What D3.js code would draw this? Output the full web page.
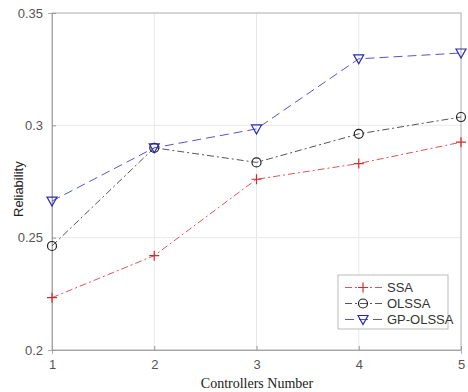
<!DOCTYPE html>
<html>
<head>
<meta charset="utf-8">
<script src="https://cdn.jsdelivr.net/npm/d3@7"></script>
<style>
  body { margin: 0; background: #fff; }
  svg { display: block; }
</style>
</head>
<body>
<div id="chart"></div>
<script>
// data
const controllers = [1, 2, 3, 4, 5];
const ssa = [0.2233, 0.2420, 0.2760, 0.2830, 0.2925];
const olssa = [0.2463, 0.2900, 0.2835, 0.2962, 0.3037];
const gpOlssa = [0.2663, 0.2900, 0.2984, 0.3296, 0.3322];
const yTicks = [0.2, 0.25, 0.3, 0.35];
const seriesNames = ['SSA', 'OLSSA', 'GP-OLSSA'];

const width = 468, height = 392;
const margin = { top: 13, right: 7, bottom: 42, left: 52 };

const svg = d3.select('#chart').append('svg')
  .attr('width', width)
  .attr('height', height);

const x = d3.scaleLinear().domain([1, 5]).range([margin.left, width - margin.right]);
const y = d3.scaleLinear().domain([0.2, 0.35]).range([height - margin.bottom, margin.top]);

// grid
svg.append('g')
  .selectAll('line')
  .data(controllers.slice(1, -1))
  .join('line')
  .attr('x1', d => x(d)).attr('x2', d => x(d))
  .attr('y1', y(0.2)).attr('y2', y(0.35))
  .attr('stroke', '#e8e8e8');

svg.append('g')
  .selectAll('line')
  .data(yTicks.slice(1, -1))
  .join('line')
  .attr('x1', x(1)).attr('x2', x(5))
  .attr('y1', d => y(d)).attr('y2', d => y(d))
  .attr('stroke', '#e8e8e8');

// box
svg.append('rect')
  .attr('x', x(1)).attr('y', y(0.35))
  .attr('width', x(5) - x(1)).attr('height', y(0.2) - y(0.35))
  .attr('fill', 'none')
  .attr('stroke', '#999')
  .attr('stroke-width', 0.8);

// axes
const xAxis = svg.append('g')
  .attr('transform', `translate(0,${y(0.2)})`)
  .call(d3.axisBottom(x).tickValues(controllers).tickFormat(d3.format('d')).tickSize(4).tickPadding(6));
const yAxis = svg.append('g')
  .attr('transform', `translate(${x(1)},0)`)
  .call(d3.axisLeft(y).tickValues(yTicks).tickFormat(d => d3.format('')(d)).tickSize(4).tickPadding(5));

[xAxis, yAxis].forEach(a => {
  a.select('.domain').attr('stroke', '#999').attr('stroke-width', 0.8);
  a.selectAll('.tick line').attr('stroke', '#999');
  a.selectAll('.tick text')
    .attr('fill', '#555')
    .style('font-family', 'Liberation Sans, Arial, sans-serif')
    .style('font-size', '13px');
});
yAxis.selectAll('.tick line').attr('x2', 4);
xAxis.selectAll('.tick line').attr('y2', -4);

// axis titles
svg.append('text')
  .attr('x', 257)
  .attr('y', 388)
  .attr('text-anchor', 'middle')
  .attr('fill', '#222')
  .style('font-family', 'Liberation Serif, Times New Roman, serif')
  .style('font-size', '14px')
  .text('Controllers Number');

svg.append('text')
  .attr('transform', 'translate(23,217) rotate(-90)')
  .attr('text-anchor', 'start')
  .attr('fill', '#222')
  .style('font-family', 'Liberation Sans, Arial, sans-serif')
  .style('font-size', '13px')
  .text('Reliability');

// series
const series = [
  { name: seriesNames[0], values: ssa, line: '#dd5555', mark: '#d42a2a', dash: '7,3,2,3', shape: 'plus' },
  { name: seriesNames[1], values: olssa, line: '#555', mark: '#222', dash: '7,3,2,3', shape: 'circle' },
  { name: seriesNames[2], values: gpOlssa, line: '#5555cc', mark: '#2a2ab0', dash: '9,5', shape: 'tri' }
];

const line = d3.line().x((d, i) => x(controllers[i])).y(d => y(d));

function drawMarker(g, shape, color, cx, cy) {
  if (shape === 'plus') {
    g.append('path')
      .attr('d', `M${cx - 5},${cy}H${cx + 5}M${cx},${cy - 5}V${cy + 5}`)
      .attr('stroke', color).attr('stroke-width', 1.2).attr('fill', 'none');
  } else if (shape === 'circle') {
    g.append('circle')
      .attr('cx', cx).attr('cy', cy).attr('r', 4.5)
      .attr('stroke', color).attr('stroke-width', 1.2).attr('fill', 'none');
  } else {
    g.append('path')
      .attr('d', `M${cx - 5},${cy - 4}H${cx + 5}L${cx},${cy + 5}Z`)
      .attr('stroke', color).attr('stroke-width', 1.2).attr('fill', 'none');
  }
}

series.forEach(s => {
  svg.append('path')
    .datum(s.values)
    .attr('d', line)
    .attr('fill', 'none')
    .attr('stroke', s.line)
    .attr('stroke-width', 1)
    .attr('stroke-dasharray', s.dash);
  const g = svg.append('g');
  s.values.forEach((v, i) => drawMarker(g, s.shape, s.mark, x(controllers[i]), y(v)));
});

// legend
const lg = svg.append('g').attr('transform', 'translate(338,275)');
lg.append('rect')
  .attr('width', 110).attr('height', 54)
  .attr('fill', '#fff').attr('stroke', '#aaa').attr('stroke-width', 0.8);
series.forEach((s, i) => {
  const yy = 12.5 + i * 16;
  lg.append('line')
    .attr('x1', 7).attr('x2', 45).attr('y1', yy).attr('y2', yy)
    .attr('stroke', s.line).attr('stroke-dasharray', s.dash);
  drawMarker(lg, s.shape, s.mark, 25, yy);
  lg.append('text')
    .attr('x', 49).attr('y', yy + 4.5)
    .attr('fill', '#333')
    .style('font-family', 'Liberation Sans, Arial, sans-serif')
    .style('font-size', '13px')
    .text(s.name);
});
</script>
</body>
</html>
